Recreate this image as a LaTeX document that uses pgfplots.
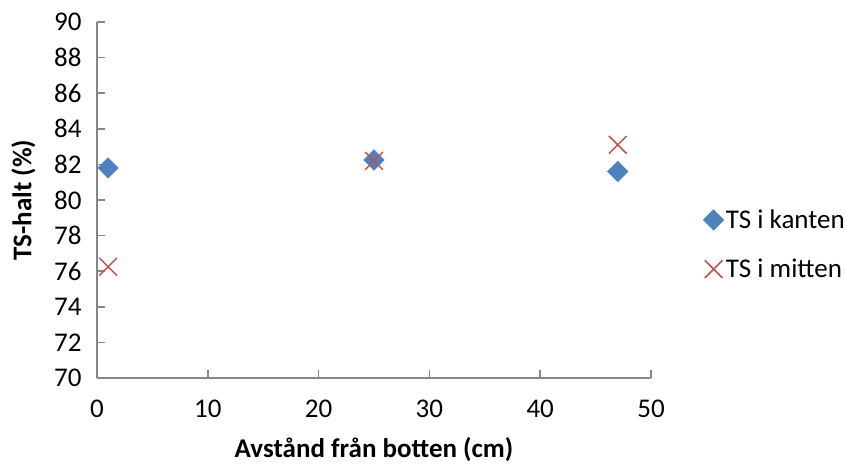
\documentclass[border=0pt]{standalone}
\usepackage{fontspec}
\setmainfont{Carlito}
\usepackage{pgfplots}
\pgfplotsset{compat=1.18}
\definecolor{kblue}{HTML}{4F81BD}
\definecolor{kred}{HTML}{C0504D}
\definecolor{axgray}{HTML}{868686}
\begin{document}
\begin{tikzpicture}
\path[use as bounding box] (-97pt,-87pt) rectangle (749pt,378pt);
\begin{axis}[
  at={(0pt,0pt)}, anchor=south west,
  scale only axis, width=554pt, height=356pt,
  xmin=0, xmax=50, ymin=70, ymax=90,
  xtick={0,10,...,50}, ytick={70,72,...,90},
  axis lines*=left,
  axis line style={axgray, line width=1.5pt},
  tick style={axgray, line width=1.5pt},
  major tick length=8pt,
  tick align=inside,
  /pgf/number format/assume math mode=true,
  ticklabel style={font=\fontsize{27}{32}\selectfont, text=black},
  xticklabel style={yshift=-18pt},
  yticklabel style={xshift=-12pt},
  xlabel={Avstånd från botten (cm)},
  ylabel={TS-halt (\%)},
  label style={font=\fontsize{27}{32}\selectfont\bfseries},
  xlabel style={at={(axis description cs:0.5,-0.2)}, anchor=center},
  ylabel style={at={(axis description cs:-0.133,0.5)}, anchor=center},
  legend style={draw=none, fill=none, at={(1.094,0.375)}, anchor=west,
    font=\fontsize{27}{32}\selectfont, row sep=25pt, inner sep=0pt},
  legend cell align=left,
  clip=false,
]
\addplot[only marks, mark=square*, mark size=7.3pt, color=kblue,
  mark options={rotate=45, fill=kblue, draw=kblue}]
  coordinates {(1,81.8) (25,82.25) (47,81.6)};
\addlegendentry{TS i kanten}
\addplot[only marks, mark=x, mark size=12.5pt, color=kred,
  mark options={line width=1.5pt}]
  coordinates {(1,76.25) (25,82.2) (47,83.1)};
\addlegendentry{TS i mitten}
\end{axis}
\end{tikzpicture}
\end{document}
